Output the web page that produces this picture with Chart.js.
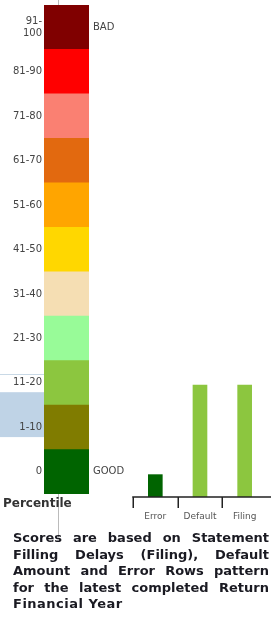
<!DOCTYPE html>
<html>
<head>
<meta charset="utf-8">
<script src="https://cdn.jsdelivr.net/npm/chart.js@4"></script>
<style>
    html, body { margin: 0; padding: 0; background: #fff; width: 271px; height: 619px; overflow: hidden; }
    #scale { position: absolute; left: 0; top: 0; }
    #rows { position: absolute; left: 130px; top: 0; }
    #note { position: absolute; left: 13px; top: 530px; width: 256px; font: bold 13px "DejaVu Sans", sans-serif; line-height: 16.5px; color: #1a1a22; }
    #note div { text-align: justify; text-align-last: justify; white-space: nowrap; }
    #note div.last { text-align-last: left; letter-spacing: 0.5px; }
</style>
</head>
<body>
<canvas id="scale" width="130" height="540"></canvas>
<canvas id="rows" width="145" height="530"></canvas>
<div id="note">
    <div>Scores are based on Statement</div>
    <div>Filling Delays (Filing), Default</div>
    <div>Amount and Error Rows pattern</div>
    <div>for the latest completed Return</div>
    <div class="last">Financial Year</div>
</div>
<script>
// percentile bands, top to bottom
const bandLabels = [['91-', '100'], '81-90', '71-80', '61-70', '51-60', '41-50', '31-40', '21-30', '11-20', '1-10', '0'];
const bandFill = [1, 1, 1, 1, 1, 1, 1, 1, 1, 1, 1];
const bandColors = ['#800000', '#ff0000', '#fa8072', '#e2690f', '#ffa500', '#ffd700', '#f5deb3', '#98fb98', '#8cc63f', '#807c00', '#006400'];
const sideLabels = ['BAD', '', '', '', '', '', '', '', '', '', 'GOOD'];
const currentBand = '1-10';

// component scores
const rowLabels = ['Error', 'Default', 'Filing'];
const rowValues = [5, 25, 25];
const rowColors = ['#006400', '#8cc63f', '#8cc63f'];

Chart.defaults.font.family = '"DejaVu Sans", Verdana, sans-serif';

const highlight = {
    id: 'highlight',
    beforeDraw(chart) {
        const {ctx, chartArea, scales} = chart;
        const h = chartArea.height / bandLabels.length;
        const c = scales.y.getPixelForValue(bandLabels.indexOf(currentBand));
        ctx.save();
        ctx.fillStyle = '#bfd3e6';
        ctx.fillRect(0, c - 0.79 * h, chartArea.left, 1.01 * h);
        ctx.fillStyle = '#c9d9e6';
        ctx.fillRect(0, Math.round(c - 1.19 * h), chartArea.left, 1);
        ctx.fillStyle = '#bbbbbb';
        ctx.fillRect(Math.round(chartArea.left + 0.31 * chartArea.width), 0, 1, chart.height - 3);
        ctx.restore();
    }
};

// axis line running off the right edge, with a tick at the left of each category
const baseline = {
    id: 'baseline',
    afterDraw(chart) {
        const {ctx, chartArea, scales} = chart;
        const x = scales.x;
        const w = x.width / rowLabels.length;
        const y = chartArea.bottom;
        ctx.save();
        ctx.strokeStyle = '#222';
        ctx.lineWidth = 1.5;
        ctx.beginPath();
        ctx.moveTo(chartArea.left - 0.75, y);
        ctx.lineTo(chart.width, y);
        rowLabels.forEach((l, i) => {
            const px = Math.round(x.getPixelForTick(i) - w / 2) + 0.25;
            ctx.moveTo(px, y);
            ctx.lineTo(px, y + 11);
        });
        ctx.stroke();
        ctx.restore();
    }
};

function fixSide(s) {
    s.width = 41;
    s.paddingTop = 0;
    s.paddingBottom = 0;
}

new Chart(document.getElementById('scale'), {
    type: 'bar',
    data: {
        labels: bandLabels,
        datasets: [{
            data: bandFill,
            backgroundColor: bandColors,
            borderWidth: 0,
            barPercentage: 1,
            categoryPercentage: 1
        }]
    },
    options: {
        indexAxis: 'y',
        responsive: false,
        animation: false,
        layout: {padding: {left: 3, top: 5, right: 0, bottom: 28.6}},
        plugins: {
            legend: {display: false},
            tooltip: {enabled: false},
            title: {
                display: true,
                text: 'Percentile',
                position: 'bottom',
                align: 'start',
                color: '#333',
                font: {size: 12, weight: 'bold'},
                padding: {top: 3, bottom: 0}
            }
        },
        scales: {
            x: {display: false, min: 0, max: 1},
            y: {
                type: 'category',
                position: 'left',
                offset: true,
                grid: {display: false, drawTicks: false},
                border: {display: false},
                ticks: {padding: 2, color: '#444', font: {size: 10}, autoSkip: false},
                afterFit: fixSide
            },
            y2: {
                type: 'category',
                position: 'right',
                labels: sideLabels,
                offset: true,
                grid: {display: false, drawTicks: false},
                border: {display: false},
                ticks: {padding: 4, color: '#444', font: {size: 10}, autoSkip: false},
                afterFit: fixSide
            }
        }
    },
    plugins: [highlight]
});

new Chart(document.getElementById('rows'), {
    type: 'bar',
    data: {
        labels: rowLabels,
        datasets: [{
            data: rowValues,
            backgroundColor: rowColors,
            borderWidth: 0,
            barThickness: 14
        }]
    },
    options: {
        responsive: false,
        animation: false,
        layout: {padding: {left: 2, top: 5, right: 8, bottom: 8}},
        plugins: {legend: {display: false}, tooltip: {enabled: false}},
        scales: {
            y: {display: false, min: 0, max: 110},
            x: {
                offset: true,
                grid: {display: false, drawTicks: false},
                border: {display: false},
                ticks: {padding: 14, color: '#555', font: {size: 9}},
                afterFit(s) { s.height = 25; }
            }
        }
    },
    plugins: [baseline]
});
</script>
</body>
</html>
